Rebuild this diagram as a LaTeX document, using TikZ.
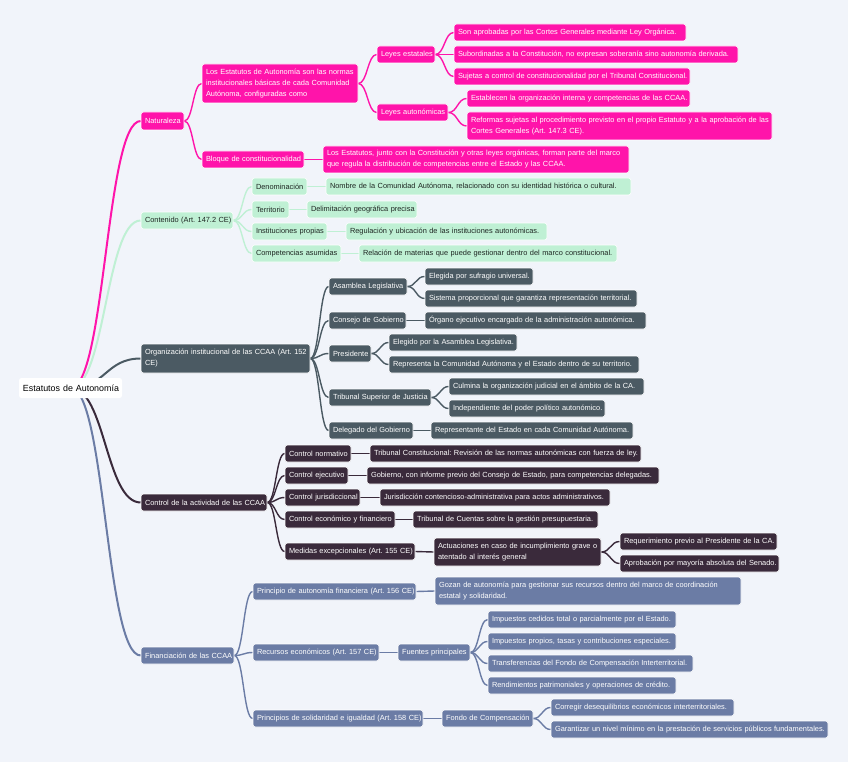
\documentclass[tikz,border=0pt]{standalone}
\usepackage{fontspec}
\setmainfont{Liberation Sans}
\usetikzlibrary{calc}
\frenchspacing
\pgfdeclarelayer{bg}\pgfsetlayers{bg,main}
\definecolor{bgc}{HTML}{F1F4FA}
\definecolor{pinkc}{HTML}{FF14AA}
\definecolor{mintc}{HTML}{BFF0D4}
\definecolor{minttext}{HTML}{1E2622}
\definecolor{slatec}{HTML}{4B5A63}
\definecolor{plumc}{HTML}{3A2A3B}
\definecolor{bluec}{HTML}{6B7CA5}
\newcommand\ndm[7]{%
 \pgfmathsetmacro\ndw{#4-#2}\pgfmathsetmacro\ndh{#5-#3}\pgfmathsetmacro\ndt{#4-#2-8}%
 \node[#6, minimum width=\ndw pt, minimum height=\ndh pt, text width=\ndt pt] (#1) at ({(#2+#4)/2},{(#3+#5)/2}) {#7};}
\newcommand\nd[7]{\ndm{#1}{#2}{#3}{#4}{#5}{#6}{\mbox{#7}}}
\newcommand\lk[3]{\draw[#1] let \p1=(#2), \p2=(#3.west) in (\p1) .. controls ({(\x1+\x2)/2},\y1) and ({(\x1+\x2)/2},\y2) .. (\p2);}
\tikzset{
 bxbase/.style={rounded corners=2.5pt, inner xsep=4pt, inner ysep=0pt, align=left, font=\fontsize{7.4}{11}\selectfont\frenchspacing, draw=white, line width=0.6pt},
 bxP/.style={bxbase, fill=pinkc, text=white},
 bxM/.style={bxbase, fill=mintc, text=minttext},
 bxS/.style={bxbase, fill=slatec, text=white},
 bxD/.style={bxbase, fill=plumc, text=white},
 bxB/.style={bxbase, fill=bluec, text=white},
 bxR/.style={bxbase, fill=white, text=black, font=\fontsize{8.9}{11}\selectfont, draw=none},
 eP/.style={draw=pinkc, line width=1.4pt},
 eM/.style={draw=mintc, line width=1.4pt},
 eS/.style={draw=slatec, line width=1.4pt},
 eD/.style={draw=plumc, line width=1.4pt},
 eB/.style={draw=bluec, line width=1.4pt},
}
\begin{document}
\begin{tikzpicture}[x=1pt,y=-1pt]
\begin{pgfonlayer}{bg}
\fill[bgc] (0,0) rectangle (848,762);
\end{pgfonlayer}
% root
\nd{rt}{19}{378}{122}{398}{bxR}{Estatutos de Autonomía}
% Naturaleza
\nd{nat}{141}{112}{184}{130}{bxP}{Naturaleza}
\ndm{est}{202}{64}{358}{103}{bxP}{\mbox{Los Estatutos de Autonomía son las normas}\\\mbox{institucionales básicas de cada Comunidad}\\\mbox{Autónoma, configuradas como}}
\nd{lest}{377}{46}{435}{63}{bxP}{Leyes estatales}
\nd{son}{454}{24}{686}{41}{bxP}{Son aprobadas por las Cortes Generales mediante Ley Orgánica.}
\nd{sub}{454}{46}{738}{63}{bxP}{Subordinadas a la Constitución, no expresan soberanía sino autonomía derivada.}
\nd{suj}{454}{68}{690}{85}{bxP}{Sujetas a control de constitucionalidad por el Tribunal Constitucional.}
\nd{laut}{377}{104}{448}{121}{bxP}{Leyes autonómicas}
\nd{esta}{467}{90}{690}{107}{bxP}{Establecen la organización interna y competencias de las CCAA.}
\ndm{ref}{467}{112}{772}{140}{bxP}{\mbox{Reformas sujetas al procedimiento previsto en el propio Estatuto y a la aprobación de las}\\\mbox{Cortes Generales (Art. 147.3 CE).}}
\nd{bloq}{202}{151}{304}{168}{bxP}{Bloque de constitucionalidad}
\ndm{jun}{323}{146}{629}{173}{bxP}{\mbox{Los Estatutos, junto con la Constitución y otras leyes orgánicas, forman parte del marco}\\\mbox{que regula la distribución de competencias entre el Estado y las CCAA.}}
% Contenido
\nd{cont}{141}{212}{233}{229}{bxM}{Contenido (Art. 147.2 CE)}
\nd{den}{252}{178}{307}{195}{bxM}{Denominación}
\nd{nom}{326}{178}{631}{195}{bxM}{Nombre de la Comunidad Autónoma, relacionado con su identidad histórica o cultural.}
\nd{ter}{252}{201}{289}{218}{bxM}{Territorio}
\nd{dlm}{307}{201}{417}{218}{bxM}{Delimitación geográfica precisa}
\nd{inst}{252}{223}{327}{240}{bxM}{Instituciones propias}
\nd{reg}{346}{223}{547}{240}{bxM}{Regulación y ubicación de las instituciones autonómicas.}
\nd{comp}{252}{245}{341}{262}{bxM}{Competencias asumidas}
\nd{rel}{359}{245}{617}{262}{bxM}{Relación de materias que puede gestionar dentro del marco constitucional.}
% Organizacion
\ndm{org}{141}{344}{310}{373}{bxS}{\mbox{Organización institucional de las CCAA (Art. 152}\\\mbox{CE)}}
\nd{asam}{329}{278}{407}{295}{bxS}{Asamblea Legislativa}
\nd{eleg}{425}{268}{533}{285}{bxS}{Elegida por sufragio universal.}
\nd{sist}{425}{290}{637}{307}{bxS}{Sistema proporcional que garantiza representación territorial.}
\nd{cons}{329}{312}{406}{329}{bxS}{Consejo de Gobierno}
\nd{orga}{425}{312}{646}{329}{bxS}{Órgano ejecutivo encargado de la administración autonómica.}
\nd{pres}{329}{345}{371}{362}{bxS}{Presidente}
\nd{elgd}{389}{334}{517}{351}{bxS}{Elegido por la Asamblea Legislativa.}
\nd{repr}{389}{356}{639}{373}{bxS}{Representa la Comunidad Autónoma y el Estado dentro de su territorio.}
\nd{tsj}{329}{389}{431}{406}{bxS}{Tribunal Superior de Justicia}
\nd{culm}{449}{378}{644}{395}{bxS}{Culmina la organización judicial en el ámbito de la CA.}
\nd{indep}{449}{400}{605}{417}{bxS}{Independiente del poder político autonómico.}
\nd{dele}{329}{422}{413}{439}{bxS}{Delegado del Gobierno}
\nd{reps}{431}{422}{633}{439}{bxS}{Representante del Estado en cada Comunidad Autónoma.}
% Control
\nd{ctrl}{141}{494}{267}{511}{bxD}{Control de la actividad de las CCAA}
\nd{cn}{285}{445}{351}{462}{bxD}{Control normativo}
\nd{tc}{370}{445}{641}{462}{bxD}{Tribunal Constitucional: Revisión de las normas autonómicas con fuerza de ley.}
\nd{ce}{285}{467}{348}{484}{bxD}{Control ejecutivo}
\nd{gob}{367}{467}{659}{484}{bxD}{Gobierno, con informe previo del Consejo de Estado, para competencias delegadas.}
\nd{cj}{285}{489}{360}{506}{bxD}{Control jurisdiccional}
\nd{jur}{380}{489}{610}{506}{bxD}{Jurisdicción contencioso-administrativa para actos administrativos.}
\nd{cef}{285}{511}{395}{528}{bxD}{Control económico y financiero}
\nd{tcu}{413}{511}{598}{528}{bxD}{Tribunal de Cuentas sobre la gestión presupuestaria.}
\nd{med}{285}{543}{415}{560}{bxD}{Medidas excepcionales (Art. 155 CE)}
\ndm{act}{434}{538}{601}{566}{bxD}{\mbox{Actuaciones en caso de incumplimiento grave o}\\\mbox{atentado al interés general}}
\nd{req}{620}{533}{777}{550}{bxD}{Requerimiento previo al Presidente de la CA.}
\nd{apr}{620}{555}{779}{572}{bxD}{Aprobación por mayoría absoluta del Senado.}
% Financiacion
\nd{fin}{141}{647}{234}{664}{bxB}{Financiación de las CCAA}
\nd{paf}{253}{583}{416}{600}{bxB}{Principio de autonomía financiera (Art. 156 CE)}
\ndm{goz}{435}{577}{741}{605}{bxB}{\mbox{Gozan de autonomía para gestionar sus recursos dentro del marco de coordinación}\\\mbox{estatal y solidaridad.}}
\nd{rec}{253}{644}{379}{661}{bxB}{Recursos económicos (Art. 157 CE)}
\nd{fue}{398}{644}{470}{661}{bxB}{Fuentes principales}
\nd{imc}{488}{611}{676}{628}{bxB}{Impuestos cedidos total o parcialmente por el Estado.}
\nd{imp}{488}{633}{676}{650}{bxB}{Impuestos propios, tasas y contribuciones especiales.}
\nd{tra}{488}{655}{693}{672}{bxB}{Transferencias del Fondo de Compensación Interterritorial.}
\nd{ren}{488}{677}{676}{694}{bxB}{Rendimientos patrimoniales y operaciones de crédito.}
\nd{psi}{253}{710}{423}{727}{bxB}{Principios de solidaridad e igualdad (Art. 158 CE)}
\nd{fon}{442}{710}{533}{727}{bxB}{Fondo de Compensación}
\nd{cor}{551}{699}{734}{716}{bxB}{Corregir desequilibrios económicos interterritoriales.}
\nd{gar}{551}{721}{828}{738}{bxB}{Garantizar un nivel mínimo en la prestación de servicios públicos fundamentales.}
% edges
\begin{pgfonlayer}{bg}
\lk{eP, line width=2pt}{rt.center}{nat}
\lk{eM, line width=2pt}{rt.center}{cont}
\lk{eS, line width=2pt}{rt.center}{org}
\lk{eD, line width=2pt}{rt.center}{ctrl}
\lk{eB, line width=2pt}{rt.center}{fin}
\lk{eP}{nat.east}{est}
\lk{eP}{nat.east}{bloq}
\lk{eP}{est.east}{lest}
\lk{eP}{est.east}{laut}
\lk{eP}{lest.east}{son}
\lk{eP}{lest.east}{sub}
\lk{eP}{lest.east}{suj}
\lk{eP}{laut.east}{esta}
\lk{eP}{laut.east}{ref}
\lk{eP}{bloq.east}{jun}
\lk{eM}{cont.east}{den}
\lk{eM}{cont.east}{ter}
\lk{eM}{cont.east}{inst}
\lk{eM}{cont.east}{comp}
\lk{eM}{den.east}{nom}
\lk{eM}{ter.east}{dlm}
\lk{eM}{inst.east}{reg}
\lk{eM}{comp.east}{rel}
\lk{eS}{org.east}{asam}
\lk{eS}{org.east}{cons}
\lk{eS}{org.east}{pres}
\lk{eS}{org.east}{tsj}
\lk{eS}{org.east}{dele}
\lk{eS}{asam.east}{eleg}
\lk{eS}{asam.east}{sist}
\lk{eS}{cons.east}{orga}
\lk{eS}{pres.east}{elgd}
\lk{eS}{pres.east}{repr}
\lk{eS}{tsj.east}{culm}
\lk{eS}{tsj.east}{indep}
\lk{eS}{dele.east}{reps}
\lk{eD}{ctrl.east}{cn}
\lk{eD}{ctrl.east}{ce}
\lk{eD}{ctrl.east}{cj}
\lk{eD}{ctrl.east}{cef}
\lk{eD}{ctrl.east}{med}
\lk{eD}{cn.east}{tc}
\lk{eD}{ce.east}{gob}
\lk{eD}{cj.east}{jur}
\lk{eD}{cef.east}{tcu}
\lk{eD}{med.east}{act}
\lk{eD}{act.east}{req}
\lk{eD}{act.east}{apr}
\lk{eB}{fin.east}{paf}
\lk{eB}{fin.east}{rec}
\lk{eB}{fin.east}{psi}
\lk{eB}{paf.east}{goz}
\lk{eB}{rec.east}{fue}
\lk{eB}{fue.east}{imc}
\lk{eB}{fue.east}{imp}
\lk{eB}{fue.east}{tra}
\lk{eB}{fue.east}{ren}
\lk{eB}{psi.east}{fon}
\lk{eB}{fon.east}{cor}
\lk{eB}{fon.east}{gar}
\end{pgfonlayer}
\end{tikzpicture}
\end{document}
